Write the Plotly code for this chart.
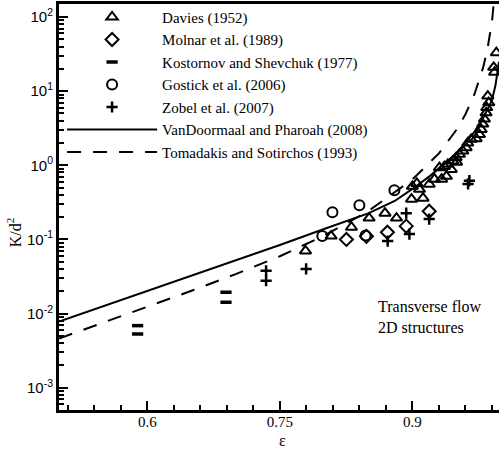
import plotly.graph_objects as go

# ---- data ----
davies_eps = [0.779, 0.808, 0.831, 0.851, 0.869, 0.882, 0.899, 0.912, 0.905, 0.908, 0.900,
              0.919, 0.925, 0.933, 0.9385, 0.944, 0.950, 0.9306, 0.9362, 0.940, 0.9457,
              0.9495, 0.9532, 0.957, 0.9608, 0.9626, 0.9665, 0.9721, 0.9759, 0.9778,
              0.9796, 0.9815, 0.9834, 0.9841, 0.9864, 0.9853, 0.992, 0.993, 0.995]
davies_k = [0.070, 0.111, 0.146, 0.194, 0.226, 0.194, 0.349, 0.36, 0.57, 0.475, 0.52,
            0.555, 0.65, 0.65, 0.71, 0.88, 1.1, 0.93, 0.96, 1.03, 1.14,
            1.27, 1.41, 1.56, 1.73, 2.0, 2.24, 2.29, 2.6, 3.05,
            3.6, 4.2, 5.1, 6.0, 7.0, 8.6, 21, 18, 33]

molnar_eps = [0.8253, 0.848, 0.8717, 0.893, 0.919]
molnar_k = [0.100, 0.110, 0.125, 0.151, 0.24]

kostornov_eps = [0.589, 0.589, 0.689, 0.689]
kostornov_k = [0.00687, 0.0053, 0.0194, 0.0142]

gostick_eps = [0.798, 0.8095, 0.840, 0.8796, 0.847]
gostick_k = [0.111, 0.233, 0.29, 0.46, 0.113]

zobel_eps = [0.7344, 0.7344, 0.7797, 0.872, 0.8966, 0.893, 0.919, 0.9645, 0.963]
zobel_k = [0.0378, 0.0277, 0.040, 0.095, 0.118, 0.226, 0.188, 0.62, 0.56]

vd_eps = [0.5, 0.55, 0.6, 0.65, 0.7, 0.75, 0.8, 0.85, 0.88, 0.9, 0.92, 0.95, 0.97, 0.98, 0.99, 0.994, 0.998]
vd_k = [0.0078, 0.0125, 0.0201, 0.0324, 0.0519, 0.084, 0.138, 0.225, 0.33, 0.48, 0.72, 1.45, 2.8, 4.3, 7.5, 12, 25]

ts_eps = [0.5, 0.55, 0.6, 0.65, 0.7, 0.75, 0.8, 0.85, 0.9, 0.93, 0.95, 0.96, 0.97, 0.98, 0.985, 0.99, 0.995]
ts_k = [0.0046, 0.0075, 0.0124, 0.0203, 0.034, 0.0593, 0.1127, 0.2406, 0.643, 1.448, 3.026, 4.88, 8.95, 20.76, 37.5, 85.6, 348]

x_ticks = [0.6, 0.75, 0.9]
x_ticklabels = ["0.6", "0.75", "0.9"]
y_ticks = [1e-3, 1e-2, 1e-1, 1, 10, 100]
y_ticklabels = ["10<sup>-3</sup>", "10<sup>-2</sup>", "10<sup>-1</sup>", "10<sup>0</sup>",
                "10<sup>1</sup>", "10<sup>2</sup>"]

SERIF = "Liberation Serif, Times New Roman, serif"
SANS = "Liberation Sans, Arial, sans-serif"

fig = go.Figure()

fig.add_trace(go.Scatter(x=vd_eps, y=vd_k, mode="lines", name="VanDoormaal and Pharoah (2008)",
                         line=dict(color="black", width=2), legendrank=6))
fig.add_trace(go.Scatter(x=ts_eps, y=ts_k, mode="lines", name="Tomadakis and Sotirchos (1993)",
                         line=dict(color="black", width=2, dash="14px,12px"), legendrank=7))

fig.add_trace(go.Scatter(x=davies_eps, y=davies_k, mode="markers", name="Davies (1952)",
                         marker=dict(symbol="triangle-up-open", size=10, color="black",
                                     line=dict(width=2, color="black")), legendrank=1))
fig.add_trace(go.Scatter(x=molnar_eps, y=molnar_k, mode="markers", name="Molnar et al. (1989)",
                         marker=dict(symbol="diamond-open", size=10, color="black",
                                     line=dict(width=2, color="black")), legendrank=2))
fig.add_trace(go.Scatter(x=kostornov_eps, y=kostornov_k, mode="markers",
                         name="Kostornov and Shevchuk (1977)",
                         marker=dict(symbol="line-ew", size=8, color="black",
                                     line=dict(width=3.5, color="black")), legendrank=3))
fig.add_trace(go.Scatter(x=gostick_eps, y=gostick_k, mode="markers", name="Gostick et al. (2006)",
                         marker=dict(symbol="circle-open", size=10, color="black",
                                     line=dict(width=2, color="black")), legendrank=4))
fig.add_trace(go.Scatter(x=zobel_eps, y=zobel_k, mode="markers", name="Zobel et al. (2007)",
                         marker=dict(symbol="cross-thin", size=8, color="black",
                                     line=dict(width=2.5, color="black")), legendrank=5))

minor_x = [round(0.51 + 0.03 * i, 2) for i in range(17)]
minor_y = [m * 10 ** e for e in range(-4, 3) for m in range(2, 10)]

fig.update_layout(
    width=499, height=450,
    margin=dict(l=59, r=0, t=4, b=40, autoexpand=False),
    paper_bgcolor="white", plot_bgcolor="white",
    showlegend=True,
    legend=dict(x=0.007, y=1.008, xanchor="left", yanchor="top", bgcolor="rgba(0,0,0,0)",
                font=dict(family=SERIF, size=15, color="black"), itemwidth=90,
                tracegroupgap=0),
    xaxis=dict(range=[0.5, 0.998], tickmode="array", tickvals=x_ticks, ticktext=x_ticklabels,
               ticks="inside", ticklen=9, tickwidth=2, tickcolor="black",
               showline=True, linewidth=3, linecolor="black", mirror=True,
               showgrid=False, zeroline=False, automargin=False, ticklabelstandoff=-4,
               tickfont=dict(family=SERIF, size=15, color="black"),
               minor=dict(tickmode="array", tickvals=minor_x, ticks="inside", ticklen=5,
                          tickwidth=1.5, tickcolor="black", showgrid=False)),
    yaxis=dict(type="log", range=[-3.301, 2.176], tickmode="array", tickvals=y_ticks,
               ticktext=y_ticklabels, ticks="inside", ticklen=9, tickwidth=2, tickcolor="black",
               showline=True, linewidth=3, linecolor="black", mirror=False,
               showgrid=False, zeroline=False, automargin=False,
               tickfont=dict(family=SANS, size=15, color="black"),
               minor=dict(tickmode="array", tickvals=minor_y, ticks="inside", ticklen=5,
                          tickwidth=1.5, tickcolor="black", showgrid=False)),
    annotations=[
        dict(text="Transverse flow<br>2D structures", xref="paper", yref="paper",
             x=0.7205, y=0.229, xanchor="left", yanchor="middle", align="left",
             showarrow=False, font=dict(family=SERIF, size=16, color="black")),
        dict(text="ε", xref="paper", yref="paper", x=0.507, y=-0.0739,
             xanchor="center", yanchor="middle", showarrow=False,
             font=dict(family=SERIF, size=16, color="black")),
        dict(text="K/d<sup>2</sup>", xref="paper", yref="paper", x=-0.102, y=0.438,
             xanchor="center", yanchor="middle", textangle=-90, showarrow=False,
             font=dict(family=SERIF, size=16, color="black")),
    ],
)

fig.write_html("out.html", config={"displayModeBar": False},
               post_script="document.body.style.margin='0px';document.body.style.padding='0px';")
